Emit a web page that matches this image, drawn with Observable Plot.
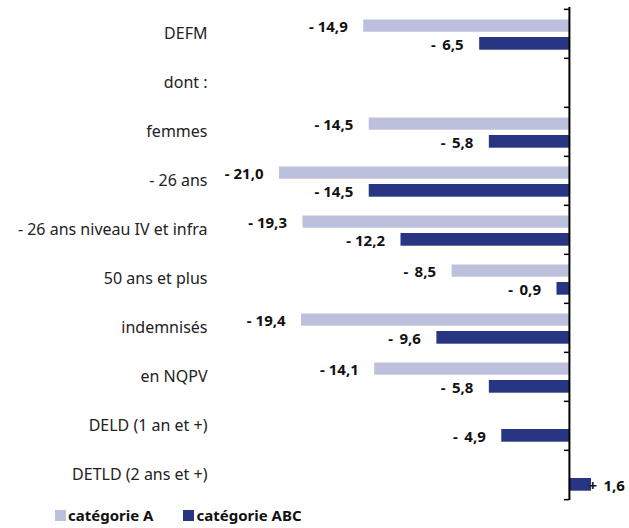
<!DOCTYPE html>
<html>
<head>
<meta charset="utf-8">
<script src="https://cdn.jsdelivr.net/npm/d3@7"></script>
<script src="https://cdn.jsdelivr.net/npm/@observablehq/plot@0.6"></script>
<style>
  html, body { margin: 0; padding: 0; background: #fff; }
  #chart svg { display: block; }
  .legend { display: flex; font-family: "Noto Sans", sans-serif; font-weight: 700; font-size: 15px; color: #111; padding-left: 55px; margin-top: -1px; line-height: 17px; }
  .legend .item { display: flex; align-items: center; }
  .legend .sw { width: 11px; height: 11px; margin-right: 2px; display: inline-block; }
</style>
</head>
<body>
<div id="chart"></div>
<script>
const categories = ["DEFM", "dont :", "femmes", "- 26 ans", "- 26 ans niveau IV et infra", "50 ans et plus", "indemnisés", "en NQPV", "DELD (1 an et +)", "DETLD (2 ans et +)"];
const catA   = [-14.9, null, -14.5, -21.0, -19.3, -8.5, -19.4, -14.1, null, null];
const catABC = [-6.5, null, -5.8, -14.5, -12.2, -0.9, -9.6, -5.8, -4.9, 1.6];
const seriesNames = ["catégorie A", "catégorie ABC"];
const colors = ["#bcc0dc", "#283583"];

const rows = [];
categories.forEach((c, i) => {
  if (catA[i] != null) rows.push({cat: c, serie: seriesNames[0], v: catA[i]});
  if (catABC[i] != null) rows.push({cat: c, serie: seriesNames[1], v: catABC[i]});
});
const rowsA = rows.filter(d => d.serie === seriesNames[0]);
const rowsB = rows.filter(d => d.serie === seriesNames[1]);

function fmt(v) {
  const s = v < 0 ? "-" : "+";
  const a = Math.abs(v).toFixed(1).replace(".", ",");
  return s + " " + (a.length < 4 ? "\u2009" : "") + a;
}

const W = 629, H = 508, mt = 7, mb = 8;
const band = (H - mt - mb) / categories.length;
const xDomain = [-21, 1.6];
const mL = 279, mR = 38;
const pxPerUnit = (W - mL - mR) / (xDomain[1] - xDomain[0]);
const tickLen = 5 / pxPerUnit;

const font = "'Noto Sans', sans-serif";
const valStyle = {fontSize: 15, fontWeight: 700, fill: "#111"};

const plot = Plot.plot({
  width: W,
  height: H,
  marginTop: mt,
  marginBottom: mb,
  marginLeft: mL,
  marginRight: mR,
  style: {fontFamily: font, background: "#fff"},
  x: {domain: xDomain, axis: null},
  y: {domain: categories, padding: 0, label: null},
  marks: [
    Plot.axisY({tickSize: 0, tickPadding: 72, fontSize: 16, fill: "#222", label: null}),
    Plot.barX(rowsA, {x1: 0, x2: "v", y: "cat", fill: colors[0], insetTop: 10.5, insetBottom: band - 23}),
    Plot.barX(rowsB, {x1: 0, x2: "v", y: "cat", fill: colors[1], insetTop: 28, insetBottom: band - 41}),
    Plot.ruleX([0], {stroke: "#000", strokeWidth: 2}),
    Plot.ruleY(categories, {y: d => d, x1: -tickLen, x2: 0, stroke: "#000", strokeWidth: 1.5, dy: -band / 2}),
    Plot.ruleY([categories[categories.length - 1]], {y: d => d, x1: -tickLen, x2: 0, stroke: "#000", strokeWidth: 1.5, dy: band / 2}),
    Plot.text(rowsA, {x: "v", y: "cat", text: d => fmt(d.v), textAnchor: "end", dx: -16, dy: -6.5, ...valStyle}),
    Plot.text(rowsB.filter(d => d.v < 0), {x: "v", y: "cat", text: d => fmt(d.v), textAnchor: "end", dx: -16, dy: 11.3, ...valStyle}),
    Plot.text(rowsB.filter(d => d.v >= 0), {x: "v", y: "cat", text: d => fmt(d.v), textAnchor: "start", dx: -3, dy: 11.3, ...valStyle})
  ]
});
document.getElementById("chart").appendChild(plot);

const legend = document.createElement("div");
legend.className = "legend";
seriesNames.forEach((n, i) => {
  const it = document.createElement("span");
  it.className = "item";
  it.style.marginRight = i === 0 ? "30px" : "0";
  const sw = document.createElement("span");
  sw.className = "sw";
  sw.style.background = colors[i];
  it.appendChild(sw);
  it.appendChild(document.createTextNode(n));
  legend.appendChild(it);
});
document.body.appendChild(legend);
</script>
</body>
</html>
